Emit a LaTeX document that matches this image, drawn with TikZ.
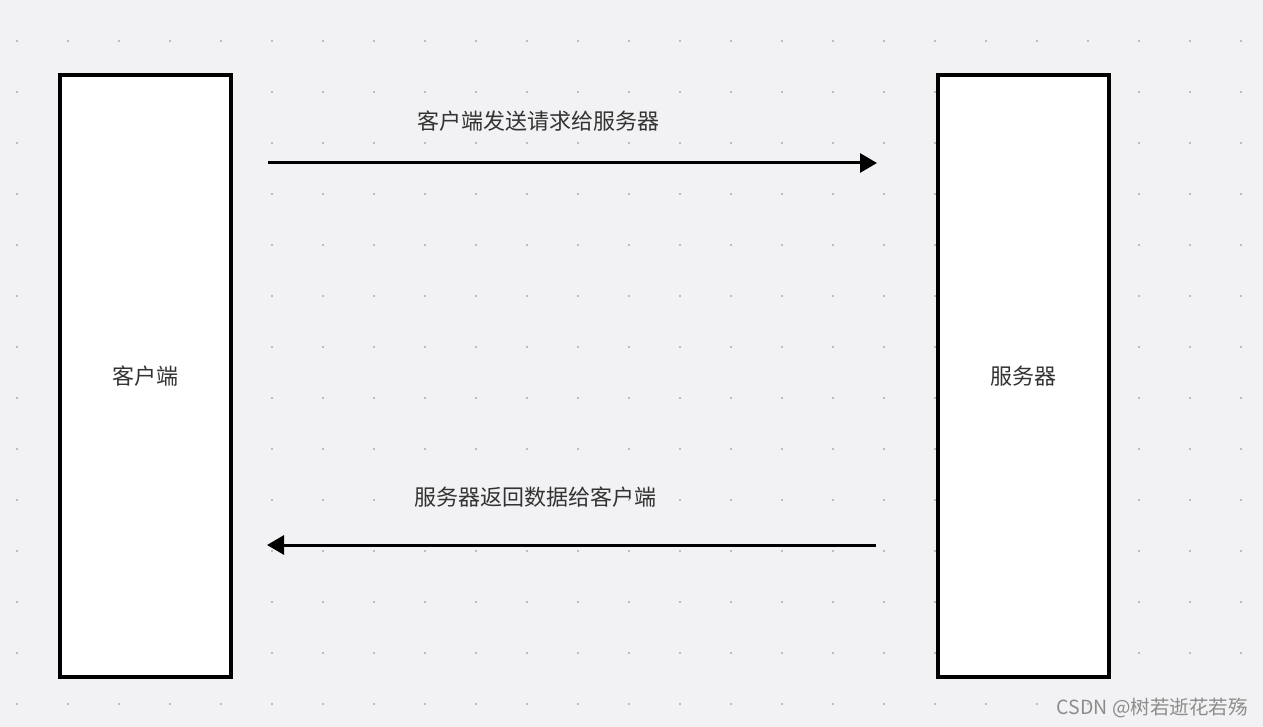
\documentclass[tikz,border=0pt]{standalone}
\usepackage{fontspec}
\setmainfont{Noto Sans CJK SC}
\usetikzlibrary{arrows.meta}
\definecolor{bgc}{HTML}{F2F2F4}
\definecolor{dotc}{HTML}{BDBDC0}
\definecolor{txtc}{HTML}{333333}
\definecolor{wmc}{HTML}{8C8C8C}
\tikzset{
  pane/.style={draw=black, fill=white, line width=3.5pt, minimum width=171pt, minimum height=602pt, inner sep=0pt, text=txtc, font=\fontsize{22}{26}\selectfont},
  msg/.style={draw=black, line width=3pt, -{Triangle[length=17pt,width=19pt]}},
  lbl/.style={text=txtc, font=\fontsize{22}{26}\selectfont, inner sep=0pt},
  gdot/.style={fill=dotc, draw=none}
}
\begin{document}
\begin{tikzpicture}[x=1pt,y=-1pt]
\fill[bgc] (0,0) rectangle (1263,727);
\useasboundingbox (0,0) rectangle (1263,727);
\foreach \i in {0,...,24}{
  \foreach \j in {0,...,13}{
    \fill[gdot] ({17+51*\i-1.4},{41+51*\j-1.4}) rectangle ++(2.8,2.8);
  }
}
\node[pane] (client) at (145.5,376) {客户端};
\node[pane] (server) at (1023.5,376) {服务器};
\coordinate (a1s) at (268,163);
\coordinate (a1e) at (877,163);
\coordinate (a2s) at (876,545);
\coordinate (a2e) at (267,545);
\draw[msg] (a1s) -- (a1e);
\draw[msg] (a2s) -- (a2e);
\node[lbl] (l1) at (538.5,121) {客户端发送请求给服务器};
\node[lbl] (l2) at (535,497) {服务器返回数据给客户端};
\node[text=wmc, font=\fontsize{19.5}{22}\selectfont, inner sep=0pt, anchor=east] (wm) at (1248,708) {CSDN @树若逝花若殇};
\end{tikzpicture}
\end{document}
